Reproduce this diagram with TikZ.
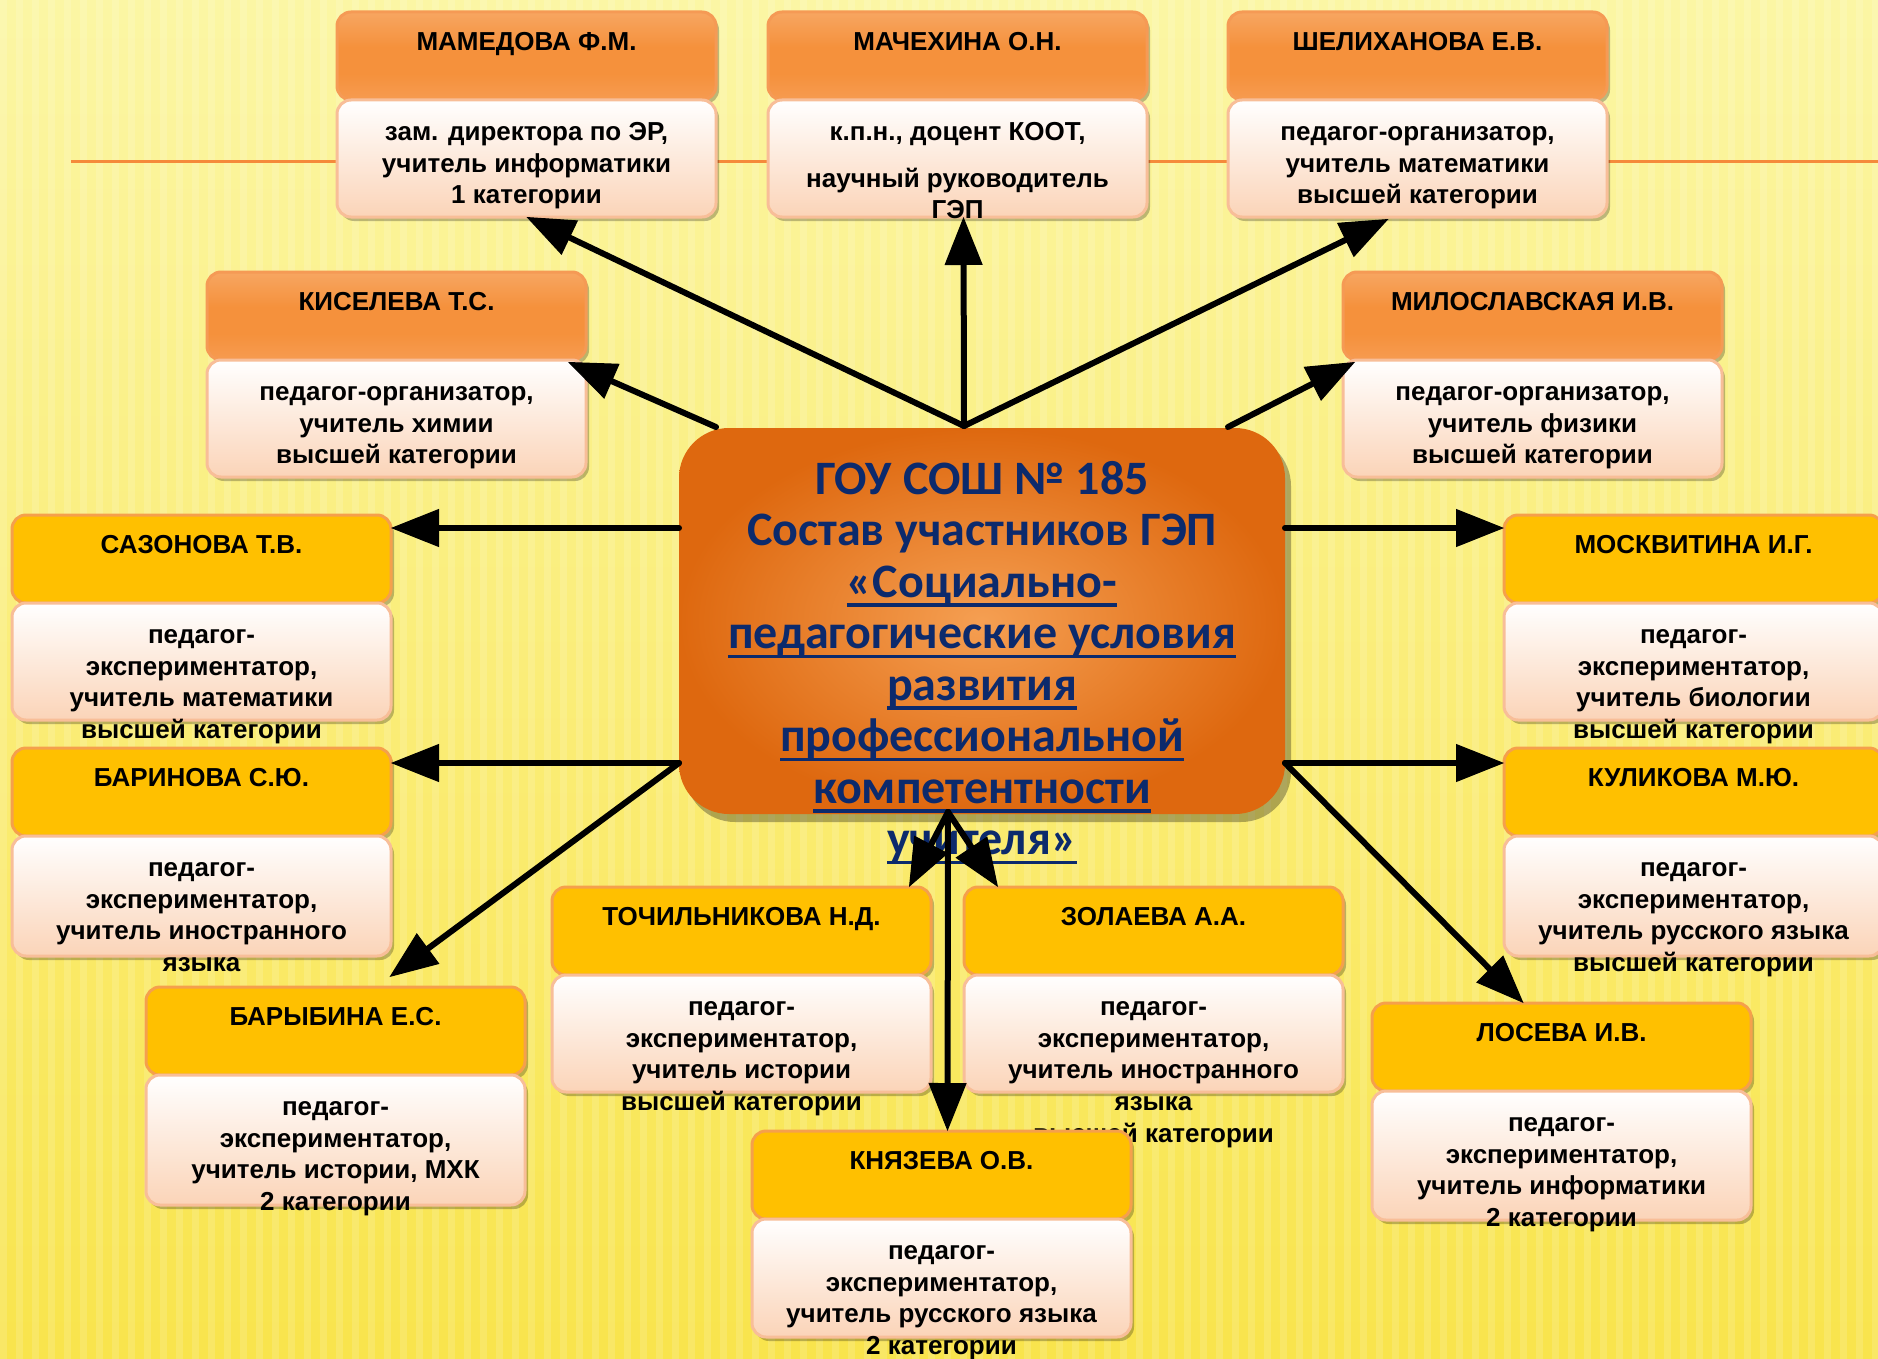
\documentclass[tikz,border=0pt]{standalone}
\usepackage{fontspec}
\setmainfont{Liberation Sans}
\newfontfamily\titlefont{Carlito}
\usetikzlibrary{arrows.meta,shadows,calc}
\definecolor{bgTop}{HTML}{FBF6A4}
\definecolor{bgBot}{HTML}{F9E44C}
\definecolor{lineO}{HTML}{F58A3A}
\definecolor{hdrOtop}{HTML}{F9C090}
\definecolor{hdrOmid}{HTML}{F5913C}
\definecolor{hdrObot}{HTML}{F8AC74}
\definecolor{hdrOborder}{HTML}{F59A55}
\definecolor{gold}{HTML}{FFC000}
\definecolor{goldBorder}{HTML}{F5A04C}
\definecolor{bodyBot}{HTML}{FBD4B8}
\definecolor{bodyBorder}{HTML}{F8BE98}
\definecolor{ctrIn}{HTML}{F59F52}
\definecolor{ctrOut}{HTML}{DE680F}
\definecolor{navy}{HTML}{0C2A6C}
\pgfdeclareverticalshading{hdrOshade}{100bp}{color(0bp)=(hdrObot); color(40bp)=(hdrOmid); color(55bp)=(hdrOmid); color(100bp)=(hdrOtop)}
\newsavebox\ulbox
\newcommand\ulx[1]{\sbox\ulbox{#1}\rlap{\rule[-4.6pt]{\wd\ulbox}{1.6pt}}\usebox\ulbox}
\newcommand\fl{\rule{0pt}{11pt}}
\newcommand\flc{\rule{0pt}{20pt}}
\tikzset{
  boxshadow/.style={drop shadow={shadow xshift=1.5pt, shadow yshift=-2pt, opacity=0.25, fill=black}},
  hdrO/.style={draw=hdrOborder, line width=1.5pt, rounded corners=7pt, shading=hdrOshade, shading angle=0,
    minimum width=189.5pt, minimum height=44pt, inner sep=0pt, outer sep=0pt, boxshadow},
  hdrY/.style={draw=goldBorder, line width=1.5pt, rounded corners=7pt, fill=gold,
    minimum width=189.5pt, minimum height=44pt, inner sep=0pt, outer sep=0pt, boxshadow},
  bodybox/.style={draw=bodyBorder, line width=1.5pt, rounded corners=7pt, top color=white, bottom color=bodyBot,
    minimum width=189.5pt, inner sep=0pt, outer sep=0pt, boxshadow},
  lbl/.style={font=\fontsize{13}{15.85}\selectfont\bfseries, align=center, inner sep=0pt, text=black},
  ctrbox/.style={rounded corners=25pt, inner color=ctrIn, outer color=ctrOut, minimum width=303pt,
    minimum height=193pt, inner sep=0pt, outer sep=0pt,
    drop shadow={shadow xshift=3pt, shadow yshift=-4pt, opacity=0.3, fill=black}},
  ctrtext/.style={font=\titlefont\fontsize{24}{25.75}\selectfont\bfseries, align=center, inner sep=0pt, text=navy},
  arr/.style={line width=3pt, line cap=round, draw=black, -{Triangle[length=24pt,width=19pt,line width=0.5pt]}}
}
\newcommand\person[7]{%
  \node[#4, anchor=north west] (#1h) at (#2,#3) {};
  \node[bodybox, anchor=north west, minimum height=#7*0.5pt] (#1b) at (#2,#3+88) {};
  \node[lbl, anchor=north] (#1n) at ($(#1h.north)+(0,16)$) {\fl #5};
  \node[lbl, anchor=north] (#1t) at ($(#1b.north)+(0,18)$) {\fl #6};
}
\begin{document}
\begin{tikzpicture}[x=0.5pt,y=-0.5pt]
\useasboundingbox (0,0) rectangle (1878,1359);
\clip (0,0) rectangle (1878,1359);
\shade[top color=bgTop, bottom color=bgBot] (0,0) rectangle (1878,1359);
\foreach \i in {0,16,...,1878} \fill[white,opacity=0.14] (\i,0) rectangle (\i+7,1359);
\draw[lineO, line width=1.5pt] (71,161) -- (1878,161);

\person{mam}{337}{12}{hdrO}{МАМЕДОВА Ф.М.}{зам. директора по ЭР,\\учитель информатики\\1 категории}{117}
\person{mach}{768}{12}{hdrO}{МАЧЕХИНА О.Н.}{к.п.н., доцент КООТ,\\[7.5pt]научный руководитель\\ГЭП}{117}
\person{shel}{1228}{12}{hdrO}{ШЕЛИХАНОВА Е.В.}{педагог-организатор,\\учитель математики\\высшей категории}{117}
\person{kis}{207}{272}{hdrO}{КИСЕЛЕВА Т.С.}{педагог-организатор,\\учитель химии\\высшей категории}{117}
\person{mil}{1343}{272}{hdrO}{МИЛОСЛАВСКАЯ И.В.}{педагог-организатор,\\учитель физики\\высшей категории}{117}
\person{saz}{12}{515}{hdrY}{САЗОНОВА Т.В.}{педагог-\\экспериментатор,\\учитель математики\\высшей категории}{117}
\person{mos}{1504}{515}{hdrY}{МОСКВИТИНА И.Г.}{педагог-\\экспериментатор,\\учитель биологии\\высшей категории}{117}
\person{bar}{12}{748}{hdrY}{БАРИНОВА С.Ю.}{педагог-\\экспериментатор,\\учитель иностранного\\языка}{120}
\person{kul}{1504}{748}{hdrY}{КУЛИКОВА М.Ю.}{педагог-\\экспериментатор,\\учитель русского языка\\высшей категории}{120}
\person{toch}{552}{887}{hdrY}{ТОЧИЛЬНИКОВА Н.Д.}{педагог-\\экспериментатор,\\учитель истории\\высшей категории}{117}
\person{zol}{964}{887}{hdrY}{ЗОЛАЕВА А.А.}{педагог-\\экспериментатор,\\учитель иностранного\\языка\\высшей категории}{117}
\person{bary}{146}{987}{hdrY}{БАРЫБИНА Е.С.}{педагог-\\экспериментатор,\\учитель истории, МХК\\2 категории}{130}
\person{los}{1372}{1003}{hdrY}{ЛОСЕВА И.В.}{педагог-\\экспериментатор,\\учитель информатики\\2 категории}{129}
\person{kny}{752}{1131}{hdrY}{КНЯЗЕВА О.В.}{педагог-\\экспериментатор,\\учитель русского языка\\2 категории}{118}

\node[ctrbox, anchor=north west] (ctr) at (679,428) {};
\node[ctrtext, anchor=north] (ctrt) at (982,454) {\flc ГОУ СОШ № 185\\Состав участников ГЭП\\\ulx{«Социально-}\\\ulx{педагогические условия}\\\ulx{развития}\\\ulx{профессиональной}\\\ulx{компетентности}\\\ulx{учителя»}};

\draw[arr] ($(ctr.north)+(-18,-2)$) -- (mamb.south);
\draw[arr] ($(ctr.north)+(-18,-2)$) -- ($(machb.south)+(6,0)$);
\draw[arr] ($(ctr.north)+(-18,-2)$) -- ($(shelb.south)+(-29,2)$);
\draw[arr] ($(ctr.north west)+(37,-1)$) -- ($(kish.south east)+(-18,2)$);
\draw[arr] ($(ctr.north east)+(-57,-1)$) -- ($(milh.south west)+(12,2)$);
\draw[arr] ($(ctr.north west)+(0,100)$) -- ($(sazh.north east)+(0,13)$);
\draw[arr] ($(ctr.north east)+(0,100)$) -- ($(mosh.north west)+(0,13)$);
\draw[arr] ($(ctr.south west)+(0,-51)$) -- ($(barh.north east)+(0,15)$);
\draw[arr] ($(ctr.south east)+(0,-51)$) -- ($(kulh.north west)+(0,15)$);
\draw[arr] ($(ctr.south west)+(0,-51)$) -- ($(baryh.north)+(54,-10)$);
\draw[arr] ($(ctr.south east)+(0,-51)$) -- ($(losh.north)+(-38,0)$);
\draw[arr] ($(ctr.south)+(-34,-2)$) -- ($(tochh.north east)+(-22,0)$);
\draw[arr] ($(ctr.south)+(-34,-2)$) -- ($(zolh.north west)+(34,0)$);
\draw[arr] ($(ctr.south)+(-34,-2)$) -- ($(knyh.north)+(6,0)$);
\end{tikzpicture}
\end{document}
